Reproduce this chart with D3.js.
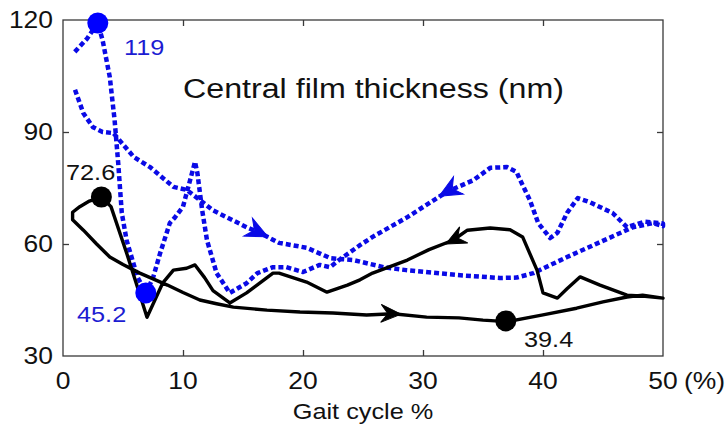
<!DOCTYPE html>
<html><head><meta charset="utf-8">
<script src="https://cdn.jsdelivr.net/npm/d3@7"></script>
<style>
html,body{margin:0;padding:0;background:#fff;}
svg{display:block;font-family:"Liberation Sans",Arial,sans-serif;}
</style></head>
<body><svg id="chart" width="727" height="430"></svg>
<script>
// ---- data (gait cycle %, film thickness nm) ----
const xTicks = [0, 10, 20, 30, 40, 50];
const yTicks = [30, 60, 90, 120];
const titleText = "Central film thickness (nm)";
const xLabel = "Gait cycle %";
const xUnit = "(%)";

// blue dotted loop (traversed: forward along lower branch, back along upper branch)
const blueLoop = [
 [1,101.3],[1.7,95],[2.5,91.3],[3.3,90],[4.2,89.7],[5.9,83.3],[7.25,80.6],[9.2,75.3],[10.3,74.5],
 [11.4,71.8],[12.5,69],[15.3,64.5],[16.4,63],[18,60.3],[20.3,59],[22.3,56.2],[24.2,55.7],[26.7,53.8],
 [28.6,53],[32.8,51.7],[36.4,50.9],[37.8,51],[39.2,52.2],[42,56.5],[44.75,60.5],[47.5,64.5],[49.2,65.6],[50,64.8],
 [50,65.5],[48.5,66],[47,64.5],[45.8,68.3],[43.9,71.2],[42.9,72.3],[42,68.3],[41.2,63],[40.6,61.6],[39.6,65.6],
 [38.9,71.8],[38.1,77.1],[37.8,79.3],[37,80.6],[35.6,80.4],[34.2,77.1],[32,74],[28.7,67.2],[25.8,61.9],
 [24.75,59.7],[23,55.7],[22.25,53.8],[21.4,54.4],[20,52.5],[18.6,53.8],[17.5,53.8],[16.2,52.2],[15.3,49.5],
 [13.9,46.9],[12.8,52.2],[12,61],[11.6,69],[11.2,79],[11,82],[10.5,76],[10,70],[9.3,67],[8.9,65.6],
 [8.1,57.6],[7.5,50.9],[6.9,46.9],[6.2,51.2],[5.3,61],[4.9,68.3],[4.6,81.7],[4.3,93.2],[3.9,104.7],
 [3.3,114.6],[2.9,119.2],[2,115],[0.85,111]
];
// black solid loop
const blackLoop = [
 [3.2,72.6],[2.2,71.5],[1.4,70],[0.8,68.5],[0.8,66.5],[1.7,63.7],[2.8,60],[3.9,56.5],[5,54.5],[6.4,52.2],
 [8.7,49],[10,47],[11.4,45],[12.8,44],[14.2,43.1],[17,42.3],[19.75,41.8],[22.5,41.5],[25.3,41],[27.5,41.3],
 [30.3,40.4],[33,40.2],[35,39.6],[37,39.2],[40,41],[42.8,42.8],[45,44.5],[47,45.8],[48.3,46.3],[50,45.5],
 [48.5,46],[47,46.3],[44.75,49],[43.1,51.2],[42,48],[41.2,45.5],[40,46.9],[39.5,53],[38.3,61.9],[37.25,63.8],
 [35.6,64.3],[33.7,63.7],[32.5,61],[30.5,58.5],[28.7,55.7],[25.8,52.2],[24.75,50.4],[23.7,49],[22,47.1],
 [20.3,49.8],[18,52.2],[17.5,52.2],[15.3,46.9],[13.9,44.2],[12.5,47.5],[11.8,51],[11,54.4],[10.3,53.5],
 [9.2,53],[8.3,49.5],[7,40.4],[5.3,57.6],[4,70],[3.2,72.6]
];
// markers and their value labels
const markerX = [2.9, 6.9, 3.2, 36.9];
const markerY = [119.2, 46.9, 72.6, 39.4];
const markerSeries = ["blue", "blue", "black", "black"];
const markerLabels = ["119", "45.2", "72.6", "39.4"];
// direction arrows [x, y, series]
const arrowX = [16.4, 32, 27.5, 32.5];
const arrowY = [63, 74, 41.3, 61];
const arrowSeries = ["blue", "blue", "black", "black"];

// ---- layout ----
const svg = d3.select("#chart");
const L = 63, R = 663, T = 20, B = 356;
const x = d3.scaleLinear().domain([0, 50]).range([L, R]);
const y = d3.scaleLinear().domain([30, 120]).range([B, T]);
const BLUE = "#0a0ae6", BLUE_TXT = "#1c1cd2", AX = "#3a3a3a";
const SX = 1.15;

function txt(str, px, py, size, color, anchor) {
  svg.append("text")
    .attr("transform", `translate(${px},${py}) scale(${SX},1)`)
    .attr("font-size", size).attr("fill", color)
    .attr("text-anchor", anchor || "start").text(str);
}

// frame
svg.append("rect").attr("x", L).attr("y", T).attr("width", R - L).attr("height", B - T)
  .attr("fill", "none").attr("stroke", AX).attr("stroke-width", 1.3);

// axes with inward ticks
const gx = svg.append("g").attr("transform", `translate(0,${B})`)
  .call(d3.axisTop(x).tickValues(xTicks.slice(1, -1)).tickSize(6).tickFormat(""));
const gxt = svg.append("g").attr("transform", `translate(0,${T})`)
  .call(d3.axisBottom(x).tickValues(xTicks.slice(1, -1)).tickSize(6).tickFormat(""));
const gy = svg.append("g").attr("transform", `translate(${L},0)`)
  .call(d3.axisRight(y).tickValues(yTicks.slice(1, -1)).tickSize(6).tickFormat(""));
const gyr = svg.append("g").attr("transform", `translate(${R},0)`)
  .call(d3.axisLeft(y).tickValues(yTicks.slice(1, -1)).tickSize(6).tickFormat(""));
[gx, gxt, gy, gyr].forEach(g => {
  g.select(".domain").remove();
  g.selectAll("line").attr("stroke", AX).attr("stroke-width", 1.3);
});

// tick labels
xTicks.forEach(v => txt(String(v), x(v), 389, 23, "#111", "middle"));
yTicks.forEach(v => txt(String(v), 53, y(v) + 8, 23, "#111", "end"));
txt(xUnit, 684, 389, 23, "#111", "start");
txt(xLabel, (L + R) / 2, 419, 22, "#111", "middle");
txt(titleText, 183, 98, 28, "#111", "start");

// lines
const line = d3.line().x(d => x(d[0])).y(d => y(d[1]));
svg.append("path").attr("d", line(blueLoop)).attr("fill", "none")
  .attr("stroke", BLUE).attr("stroke-width", 4.5).attr("stroke-dasharray", "5,3")
  .attr("stroke-linejoin", "round");
svg.append("path").attr("d", line(blackLoop)).attr("fill", "none")
  .attr("stroke", "#000").attr("stroke-width", 3.4).attr("stroke-linejoin", "round");

// arrows: direction from neighbouring loop points
function arrowAngle(loop, ax, ay) {
  let best = 0, bd = Infinity;
  for (let i = 0; i < loop.length - 1; i++) {
    const d = Math.hypot(x(loop[i][0]) - x(ax), y(loop[i][1]) - y(ay));
    if (d < bd) { bd = d; best = i; }
  }
  const a = loop[Math.max(0, best - 1)], b = loop[Math.min(loop.length - 1, best + 1)];
  return Math.atan2(y(b[1]) - y(a[1]), x(b[0]) - x(a[0])) * 180 / Math.PI;
}
arrowX.forEach((ax, i) => {
  const isBlue = arrowSeries[i] === "blue";
  const ang = arrowAngle(isBlue ? blueLoop : blackLoop, ax, arrowY[i]);
  const shape = isBlue ? "M9,0 L-13,-10 L-6,0 L-13,10 Z" : "M8,0 L-12,-9 L-5,0 L-12,9 Z";
  svg.append("path").attr("d", shape)
    .attr("transform", `translate(${x(ax)},${y(arrowY[i])}) rotate(${ang})`)
    .attr("fill", isBlue ? BLUE : "#000")
    .attr("stroke", isBlue ? BLUE : "#000").attr("stroke-width", 1);
});

// markers
markerX.forEach((mx, i) => {
  svg.append("circle").attr("cx", x(mx)).attr("cy", y(markerY[i])).attr("r", 10.5)
    .attr("fill", markerSeries[i] === "blue" ? "#0000ff" : "#000");
});
// marker labels
const labelPos = [[124, 55], [77, 322], [66, 180], [524, 347]];
markerLabels.forEach((s, i) => {
  txt(s, labelPos[i][0], labelPos[i][1], 22, markerSeries[i] === "blue" ? BLUE_TXT : "#111", "start");
});
</script></body></html>
